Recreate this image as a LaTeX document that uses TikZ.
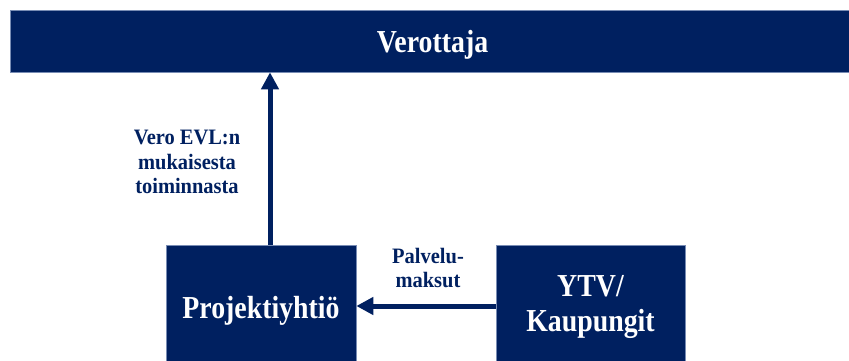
\documentclass[tikz,border=0pt]{standalone}
\usepackage{fontspec}
\setmainfont{Liberation Serif}
\newfontfamily\bigfont[FakeStretch=0.87]{Liberation Serif}
\newfontfamily\lblfont[FakeStretch=0.93]{Liberation Serif}
\usetikzlibrary{arrows.meta}
\definecolor{navy}{RGB}{0,32,96}
\definecolor{edge}{RGB}{120,140,180}
\tikzset{
  x=1pt, y=-1pt,
  box/.style={rectangle, fill=navy, draw=edge, line width=0.6pt, inner sep=0pt,
    text=white, font=\bigfont\bfseries\fontsize{32}{35}\selectfont, align=center},
  lbl/.style={text=navy, inner sep=0pt, align=center,
    font=\lblfont\bfseries\fontsize{22}{24.5}\selectfont},
  flow/.style={draw=navy, line width=5pt, -{Triangle[length=17pt,width=17pt]}}
}
\begin{document}
\begin{tikzpicture}
\useasboundingbox (0,0) rectangle (849,361);
\clip (0,0) rectangle (849,361);
\node[box, minimum width=845pt, minimum height=62pt, text height=23pt, text depth=0pt] (top) at (432.5,41) {Verottaja};
\node[box, minimum width=190pt, minimum height=124pt, text height=23pt, text depth=0pt] (proj) at (261,307) {Projektiyhtiö};
\node[box, minimum width=189pt, minimum height=124pt] (ytv) at (590.5,307) {YTV/\\Kaupungit};
\coordinate (vx) at (270,0);
\coordinate (hy) at (0,306);
\draw[flow] (proj.north -| vx) -- (top.south -| vx);
\draw[flow] (ytv.west |- hy) -- (proj.east |- hy);
\node[lbl] (vero) at (187,162) {Vero EVL:n\\mukaisesta\\toiminnasta};
\node[lbl] (palvelu) at (428,268) {Palvelu-\\maksut};
\end{tikzpicture}
\end{document}
